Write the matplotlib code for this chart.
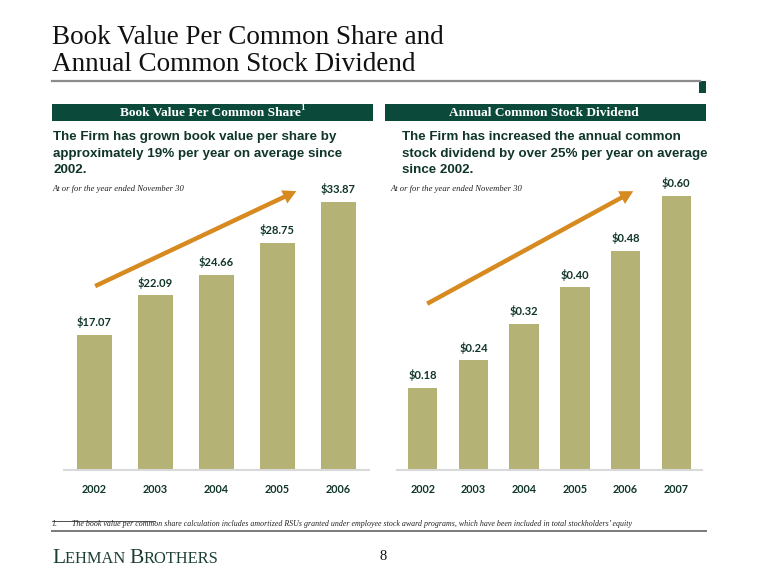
import matplotlib
matplotlib.use("Agg")
import matplotlib.pyplot as plt
from matplotlib.patches import Rectangle, FancyArrowPatch
from matplotlib.lines import Line2D

# ---------------- data ----------------
bv_years = ["2002", "2003", "2004", "2005", "2006"]
bv_values = [17.07, 22.09, 24.66, 28.75, 33.87]
bv_labels = ["$17.07", "$22.09", "$24.66", "$28.75", "$33.87"]

div_years = ["2002", "2003", "2004", "2005", "2006", "2007"]
div_values = [0.18, 0.24, 0.32, 0.40, 0.48, 0.60]
div_labels = ["$0.18", "$0.24", "$0.32", "$0.40", "$0.48", "$0.60"]

title_lines = ["Book Value Per Common Share and", "Annual Common Stock Dividend"]
left_header = "Book Value Per Common Share"
right_header = "Annual Common Stock Dividend"
left_sub = ["The Firm has grown book value per share by",
            "approximately 19% per year on average since",
            "2002."]
right_sub = ["The Firm has increased the annual common",
             "stock dividend by over 25% per year on average",
             "since 2002."]
note = "At or for the year ended November 30"
footnote = ("The book value per common share calculation includes amortized RSUs granted under "
            "employee stock award programs, which have been included in total stockholders\u2019 equity")

# ---------------- style ----------------
W, H = 757, 587
BAR = "#b4b274"
GREEN = "#0b4a3a"
TXTGREEN = "#10352b"
ORANGE = "#d68a1f"
SERIF = "Liberation Serif"
SANS = "Liberation Sans"
LABF = "Lato"

def fx(x):
    return x / W

def fy(y):
    return 1 - y / H

fig = plt.figure(figsize=(W / 100, H / 100), dpi=100)
fig.patch.set_facecolor("white")

# title
fig.text(fx(52), fy(44), title_lines[0], family=SERIF, fontsize=19.5, color="#111111", va="baseline")
fig.text(fx(52), fy(71), title_lines[1], family=SERIF, fontsize=19.5, color="#111111", va="baseline")
fig.add_artist(Line2D([fx(52), fx(700)], [fy(81.5), fy(81.5)], color="#8c8c8c", lw=1.6))
fig.add_artist(Rectangle((fx(699), fy(93)), 7 / W, 12 / H, color=GREEN, lw=0))

# header bars
for x0, txt in [(52, left_header), (385, right_header)]:
    fig.add_artist(Rectangle((fx(x0), fy(121)), 321 / W, 17 / H, color=GREEN, lw=0))
    t = fig.text(fx(x0 + 160.5 - 2), fy(112.5), txt, family=SERIF, weight="bold",
                 fontsize=9.6, color="white", ha="center", va="center")
    if txt == left_header:
        fig.canvas.draw()
        bb = t.get_window_extent()
        fig.text(bb.x1 / W - 1 / W, fy(108.5), "1", family=SERIF, weight="bold",
                 fontsize=6.5, color="white", ha="left", va="center")

# subtitles
for x0, lines in [(53, left_sub), (402, right_sub)]:
    for i, ln in enumerate(lines):
        fig.text(fx(x0), fy(140 + 16.6 * i), ln, family=SANS, weight="bold",
                 fontsize=9.6, color=TXTGREEN, va="baseline")

# notes
for x0 in (52, 390):
    fig.text(fx(x0), fy(189), note, family=SERIF, style="italic", fontsize=6.2,
             color="#222222", va="center")


def bar_panel(rect, years, values, labels, ytop, arrow):
    ax = fig.add_axes(rect)
    xs = list(range(len(years)))
    ax.bar(xs, values, width=0.58, color=BAR, zorder=2)
    ax.set_xlim(-0.5, len(years) - 0.5)
    ax.set_ylim(0, ytop)
    for s in ("top", "right", "left"):
        ax.spines[s].set_visible(False)
    ax.spines["bottom"].set_color("#d9d9d9")
    ax.spines["bottom"].set_linewidth(1.5)
    ax.set_yticks([])
    ax.set_xticks(xs)
    ax.set_xticklabels(years, fontfamily=LABF, fontweight="bold", fontsize=7.8, color=TXTGREEN)
    ax.tick_params(axis="x", length=0, pad=10)
    for x, v, lab in zip(xs, values, labels):
        ax.annotate(lab, (x, v), xytext=(0, 6.2), textcoords="offset points",
                    ha="center", va="baseline", family=LABF, weight="bold",
                    fontsize=8, color=TXTGREEN)
    ax.patch.set_alpha(0)
    arr = FancyArrowPatch(arrow[0], arrow[1],
                          arrowstyle="simple,head_length=0.6,head_width=0.65,tail_width=0.2",
                          mutation_scale=16, color=ORANGE, lw=0, zorder=3, clip_on=False)
    ax.add_patch(arr)
    return ax

bar_panel([fx(64), fy(470), 305 / W, 290 / H], bv_years, bv_values, bv_labels,
          290 / 7.91, ((-0.03, 23.1), (3.35, 35.4)))
bar_panel([fx(397.4), fy(470), 304.2 / W, 290 / H], div_years, div_values, div_labels,
          290 / 457.0, ((0.04, 0.361), (4.2, 0.613)))

# footnote
fig.add_artist(Line2D([fx(52), fx(155)], [fy(520.5), fy(520.5)], color="#333333", lw=0.6))
fig.text(fx(52), fy(524.5), "1.", family=SERIF, style="italic", fontsize=5.8, color="#222222", va="center")
fig.text(fx(72), fy(524.5), footnote, family=SERIF, style="italic", fontsize=5.65,
         color="#222222", va="center")
fig.add_artist(Line2D([fx(52), fx(706)], [fy(530.5), fy(530.5)], color="#7a7a7a", lw=1.4))

# Lehman Brothers small caps
fig.canvas.draw()
r = fig.canvas.get_renderer()
x = 52.0
for piece, size in [("L", 15.5), ("EHMAN ", 11.8), ("B", 15.5), ("ROTHERS", 11.8)]:
    t = fig.text(fx(x), fy(563), piece, family=SERIF, fontsize=size, color="#1c3f35", va="baseline")
    bb = t.get_window_extent(renderer=r)
    x += bb.width

fig.text(fx(383), fy(557), "8", family=SERIF, fontsize=10.5, color="#111111", ha="center", va="center")

fig.savefig("out.png", dpi=100, facecolor="white")
